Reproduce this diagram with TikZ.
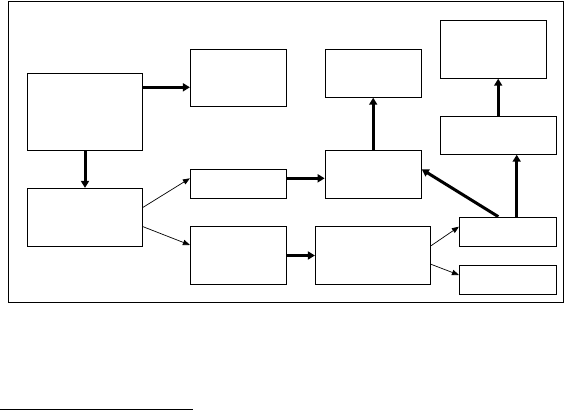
\documentclass[tikz,border=0pt]{standalone}
\usetikzlibrary{arrows.meta}
\begin{document}
\begin{tikzpicture}[x=1pt,y=-1pt,
  box/.style={draw,line width=0.8pt,inner sep=0pt,fill=white},
  bigarrow/.style={line width=3pt,-{Triangle[length=7pt,width=8pt]}},
  thinarrow/.style={line width=0.7pt,-{Triangle[length=7pt,width=5.5pt]}}]
\useasboundingbox (0,0) rectangle (565,410);
\draw[line width=0.9pt] (8,1) rectangle (563.7,302.7);
\node[box,minimum width=115.4pt,minimum height=77pt] (A) at (85,111.5) {};
\node[box,minimum width=96.4pt,minimum height=57.4pt] (B) at (238.5,78) {};
\node[box,minimum width=115.4pt,minimum height=58pt] (C) at (85,217.3) {};
\node[box,minimum width=96.4pt,minimum height=29pt] (D) at (238.5,183.8) {};
\node[box,minimum width=96.4pt,minimum height=58.4pt] (E) at (238.5,255.5) {};
\node[box,minimum width=96.3pt,minimum height=48pt] (F) at (373.2,73.3) {};
\node[box,minimum width=106.4pt,minimum height=58pt] (G) at (493.5,49.3) {};
\node[box,minimum width=115.7pt,minimum height=38pt] (H) at (498.2,135.3) {};
\node[box,minimum width=96.3pt,minimum height=48pt] (I) at (373.2,174.3) {};
\node[box,minimum width=115.4pt,minimum height=58pt] (J) at (373,255.3) {};
\node[box,minimum width=96.7pt,minimum height=29.3pt] (K) at (507.7,231.7) {};
\node[box,minimum width=96.7pt,minimum height=29.3pt] (L) at (507.7,279.7) {};
\draw[bigarrow] ([yshift=24.2pt]A.east) -- ([yshift=24.2pt]A.east -| B.west);
\draw[bigarrow] (A.south) -- (C.north);
\draw[thinarrow] ([yshift=10pt]C.east) -- ([yshift=5.5pt]D.west);
\draw[thinarrow] ([yshift=-9.4pt]C.east) -- ([yshift=10.5pt]E.west);
\draw[bigarrow] ([yshift=5.5pt]D.east) -- ([yshift=5.5pt]D.east -| I.west);
\draw[bigarrow] (E.east) -- (E.east -| J.west);
\draw[bigarrow] (I.north) -- (F.south);
\draw[bigarrow] ([xshift=-9.4pt]K.north) -- ([yshift=5pt]I.east);
\draw[bigarrow] ([xshift=9pt]K.north) -- ([xshift=9pt]K.north |- H.south);
\draw[bigarrow] (H.north) -- (H.north |- G.south);
\draw[thinarrow] ([yshift=9.6pt]J.east) -- ([yshift=5pt]K.west);
\draw[thinarrow] ([yshift=-9pt]J.east) -- ([yshift=4.7pt]L.west);
\coordinate (fnA) at (0,409);
\coordinate (fnB) at (193,409);
\draw[line width=0.8pt] (fnA) -- (fnB);
\end{tikzpicture}
\end{document}
